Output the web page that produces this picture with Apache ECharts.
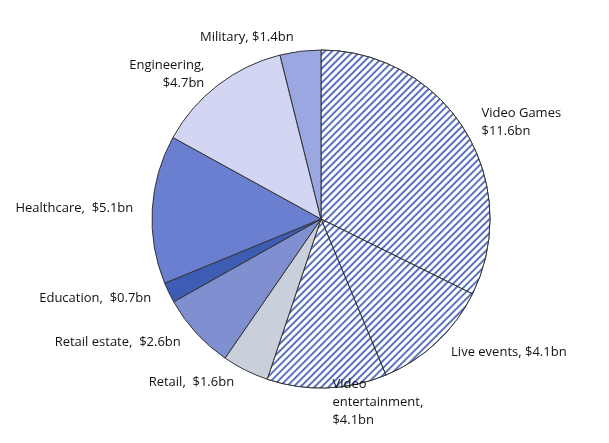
<!DOCTYPE html><html><head><meta charset="utf-8">
<script src="https://cdn.jsdelivr.net/npm/echarts@6/dist/echarts.min.js"></script>
<style>html,body{margin:0;background:#fff}#c{width:609px;height:443px}</style></head><body><div id="c"></div><script>
const names=['Video Games\n$11.6bn','Live events, $4.1bn','Video\nentertainment,\n$4.1bn','Retail,  $1.6bn','Retail estate,  $2.6bn','Education,  $0.7bn','Healthcare,  $5.1bn','Engineering,\n$4.7bn','Military, $1.4bn'];
const values=[11.6,4.1,4.1,1.6,2.6,0.7,5.1,4.7,1.4];
const colors=['#ffffff','#ffffff','#ffffff','#c9d0dc','#7f8fcf','#3d5cb3','#6b7fd1','#d2d6f2','#9aa7e0'];
const hatched=[true,true,true,false,false,false,false,false,false];
const decal={symbol:'rect',color:'#5a72c0',backgroundColor:'#ffffff',dashArrayX:[1,0],dashArrayY:[1.5,2.5],rotation:-Math.PI/4,symbolSize:1};
const chart=echarts.init(document.getElementById('c'),null,{renderer:'canvas'});
chart.setOption({animation:false,aria:{enabled:false},series:[{type:'pie',center:[321,219],radius:169,startAngle:90,clockwise:true,
label:{show:true,position:'outside',color:'#111',fontSize:13,fontFamily:'Open Sans',lineHeight:18,align:'center'},
labelLine:{show:false,length:14,length2:0},
itemStyle:{borderColor:'#333',borderWidth:1},
data:values.map((v,i)=>({name:names[i],value:v,itemStyle:Object.assign({color:colors[i]},hatched[i]?{decal}:{})}))}]});
</script></body></html>
